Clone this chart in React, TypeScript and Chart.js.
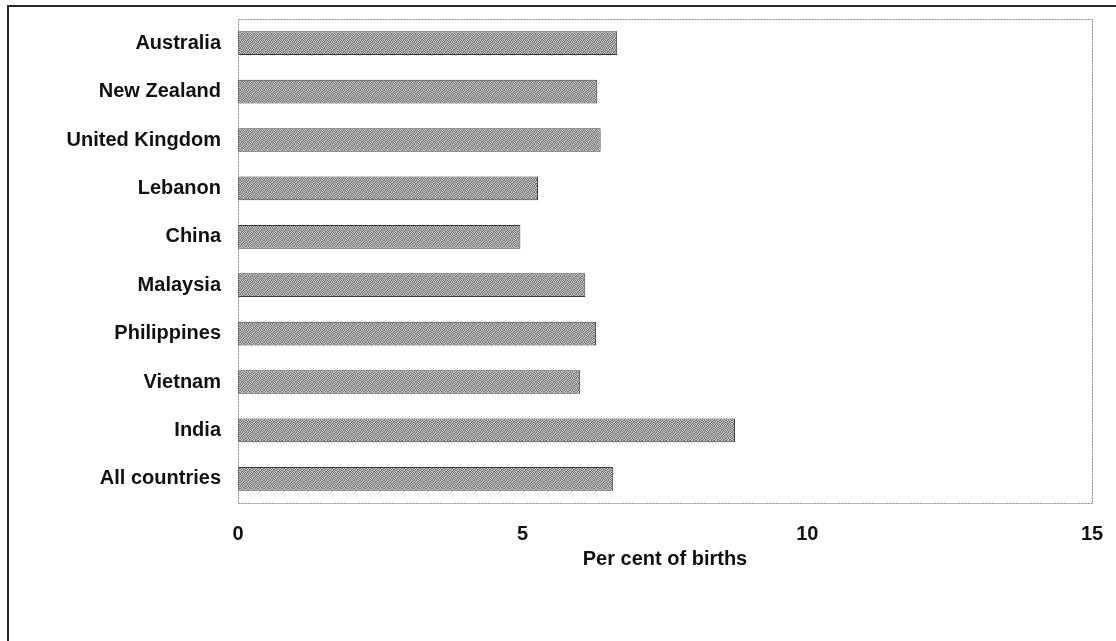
import React, { useEffect, useRef } from "react";
import { Chart, registerables } from "chart.js";

Chart.register(...registerables);

const categories = [
  "Australia",
  "New Zealand",
  "United Kingdom",
  "Lebanon",
  "China",
  "Malaysia",
  "Philippines",
  "Vietnam",
  "India",
  "All countries",
];
const values = [6.66, 6.31, 6.37, 5.27, 4.96, 6.1, 6.29, 6.01, 8.73, 6.59];
const xTicks = [0, 5, 10, 15];
const xTitle = "Per cent of births";

const FONT = "'Liberation Sans', Arial, Helvetica, sans-serif";

const TILE = [
  [1, 0, 1, 0, 0, 1],
  [0, 1, 0, 1, 1, 0],
  [1, 0, 0, 1, 0, 1],
  [0, 1, 1, 0, 1, 0],
  [0, 1, 0, 1, 0, 1],
  [1, 0, 1, 0, 1, 0],
];

function makePattern(): CanvasPattern | string {
  const c = document.createElement("canvas");
  const n = TILE.length;
  c.width = n;
  c.height = n;
  const g = c.getContext("2d");
  if (!g) return "#9d9d9d";
  for (let y = 0; y < n; y++) {
    for (let x = 0; x < n; x++) {
      g.fillStyle = TILE[y][x] ? "#727272" : "#c9c9c9";
      g.fillRect(x, y, 1, 1);
    }
  }
  const p = g.createPattern(c, "repeat");
  return p || "#9d9d9d";
}

const frameBorder = {
  id: "frameBorder",
  afterDraw(chart: any) {
    const { ctx, chartArea } = chart;
    const { left, right, top, bottom } = chartArea;
    ctx.save();
    ctx.strokeStyle = "#8a8a8a";
    ctx.lineWidth = 1;
    ctx.setLineDash([2, 1]);
    ctx.strokeRect(left + 0.5, top + 0.5, right - left, bottom - top);
    ctx.restore();
  },
};

export default function App() {
  const ref = useRef<HTMLCanvasElement | null>(null);

  useEffect(() => {
    if (!ref.current) return;
    const pattern = makePattern();
    const chart = new Chart(ref.current, {
      type: "bar",
      data: {
        labels: categories,
        datasets: [
          {
            data: values,
            backgroundColor: pattern as any,
            borderColor: "#3a3a3a",
            borderWidth: 1,
            borderSkipped: false,
            categoryPercentage: 1,
            barPercentage: 0.49,
          },
        ],
      },
      options: {
        indexAxis: "y",
        animation: false,
        responsive: false,
        devicePixelRatio: 1,
        layout: { padding: { left: 0, right: 24, top: 19, bottom: 68 } },
        plugins: {
          legend: { display: false },
          tooltip: { enabled: false },
        },
        scales: {
          x: {
            min: 0,
            max: 15,
            afterBuildTicks: (scale: any) => {
              scale.ticks = xTicks.map((v) => ({ value: v }));
            },
            afterFit: (scale: any) => {
              scale.height = 70;
              scale.paddingLeft = 0;
              scale.paddingRight = 0;
            },
            grid: { display: false, drawTicks: false },
            border: { display: false },
            ticks: {
              padding: 19,
              color: "#111",
              font: { family: FONT, size: 20, weight: "bold" },
            },
            title: {
              display: true,
              text: xTitle,
              color: "#111",
              padding: { top: 0, bottom: 2 },
              font: { family: FONT, size: 20, weight: "bold" },
            },
          },
          y: {
            afterFit: (scale: any) => {
              scale.width = 238;
              scale.paddingTop = 0;
              scale.paddingBottom = 0;
            },
            grid: { display: false, drawTicks: false },
            border: { display: false },
            ticks: {
              padding: 17,
              color: "#111",
              font: { family: FONT, size: 20, weight: "bold" },
            },
          },
        },
      },
      plugins: [frameBorder],
    });
    return () => chart.destroy();
  }, []);

  return (
    <div style={{ position: "fixed", left: 0, top: 0, width: 1116, height: 641, background: "#fff" }}>
      <canvas ref={ref} width={1116} height={641} style={{ position: "absolute", left: 0, top: 0, width: 1116, height: 641 }} />
      <div style={{ position: "absolute", left: 7, top: 5, width: 1109, height: 2, background: "#2a2a2a" }} />
      <div style={{ position: "absolute", left: 7, top: 5, width: 2, height: 636, background: "#2a2a2a" }} />
    </div>
  );
}
